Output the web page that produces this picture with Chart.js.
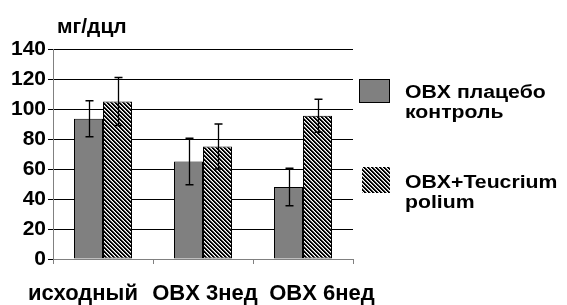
<!DOCTYPE html>
<html>
<head>
<meta charset="utf-8">
<script src="https://cdn.jsdelivr.net/npm/chart.js@4"></script>
<style>
    html, body { margin: 0; padding: 0; background: #fff; }
    #wrap { width: 567px; height: 305px; }
</style>
</head>
<body>
<div id="wrap"><canvas id="grafica" width="567" height="305"></canvas></div>
<script>
"use strict";
/* Datos */
const categorias = ["исходный", "OBX 3нед", "OBX 6нед"];
const nombresSeries = [["OBX плацебо", "контроль"], ["OBX+Teucrium", "polium"]];
const placebo = [93.5, 65, 48];
const placeboErr = [12, 15.5, 12.5];
const teucrium = [105, 75, 95.5];
const teucriumErr = [16, 15, 11];
const ticksY = [0, 20, 40, 60, 80, 100, 120, 140];
const unidad = "мг/дцл";

const FUENTE = "'Liberation Sans', Arial, sans-serif";

/* Patron rayado */
function crearRayado() {
    const c = document.createElement("canvas");
    c.width = 4;
    c.height = 4;
    const ctx = c.getContext("2d");
    ctx.fillStyle = "#fff";
    ctx.fillRect(0, 0, 4, 4);
    for (let y = 0; y < 4; y++) {
        for (let x = 0; x < 4; x++) {
            const k = ((x - y) % 4 + 4) % 4;
            if (k === 0 || k === 1) { ctx.fillStyle = "#000"; ctx.fillRect(x, y, 1, 1); }
            if (k === 2) { ctx.fillStyle = "#999"; ctx.fillRect(x, y, 1, 1); }
        }
    }
    return ctx.createPattern(c, "repeat");
}
const rayado = crearRayado();

/* Barras de error */
const barrasError = {
    id: "barrasError",
    afterDatasetsDraw(chart) {
        const ctx = chart.ctx;
        const escalaY = chart.scales.y;
        const errores = [placeboErr, teucriumErr];
        ctx.save();
        ctx.strokeStyle = "#000";
        ctx.lineWidth = 1.3;
        chart.data.datasets.forEach((ds, d) => {
            chart.getDatasetMeta(d).data.forEach((barra, i) => {
                const v = ds.data[i];
                const e = errores[d][i];
                const x = Math.round(barra.x) + 0.5;
                const yA = escalaY.getPixelForValue(v + e);
                const yB = escalaY.getPixelForValue(v - e);
                ctx.beginPath();
                ctx.moveTo(x, yA); ctx.lineTo(x, yB);
                ctx.moveTo(x - 4, yA); ctx.lineTo(x + 4, yA);
                ctx.moveTo(x - 4, yB); ctx.lineTo(x + 4, yB);
                ctx.stroke();
            });
        });
        ctx.restore();
    }
};

/* Textos: unidad, etiquetas del eje X y leyenda */
const textos = {
    id: "textos",
    afterDraw(chart) {
        const ctx = chart.ctx;
        const escalaX = chart.scales.x;
        ctx.save();
        ctx.fillStyle = "#000";
        ctx.textBaseline = "alphabetic";

        ctx.font = "bold 21px " + FUENTE;
        ctx.textAlign = "left";
        ctx.fillText(unidad, 57, 33);

        ctx.font = "bold 22px " + FUENTE;
        ctx.textAlign = "center";
        const desplaz = [-20, 2, 19];
        categorias.forEach((cat, i) => {
            ctx.fillText(cat, escalaX.getPixelForValue(i) + desplaz[i], 300);
        });

        // leyenda
        const cajas = [[359, 79, 31, 24], [362, 167, 28, 26]];
        const baseY = [97.5, 187.5];
        chart.data.datasets.forEach((ds, d) => {
            const [bx, by, bw, bh] = cajas[d];
            ctx.fillStyle = ds.backgroundColor;
            ctx.fillRect(bx, by, bw, bh);
            if (d === 0) {
                ctx.strokeStyle = "#000";
                ctx.lineWidth = 1;
                ctx.strokeRect(bx + 0.5, by + 0.5, bw - 1, bh - 1);
            }
            ctx.fillStyle = "#000";
            ctx.font = "bold 18px " + FUENTE;
            ctx.textAlign = "left";
            nombresSeries[d].forEach((linea, j) => {
                ctx.save();
                ctx.translate(405, baseY[d] + j * 20);
                ctx.scale(1.18, 1);
                ctx.fillText(linea, 0, 0);
                ctx.restore();
            });
        });
        ctx.restore();
    }
};

new Chart(document.getElementById("grafica"), {
    type: "bar",
    data: {
        labels: categorias,
        datasets: [{
            label: nombresSeries[0].join(" "),
            data: placebo,
            backgroundColor: "#808080",
            borderColor: "#000",
            borderWidth: 1,
            borderSkipped: false
        }, {
            label: nombresSeries[1].join(" "),
            data: teucrium,
            backgroundColor: rayado,
            borderColor: "#000",
            borderWidth: 1,
            borderSkipped: false
        }]
    },
    options: {
        responsive: false,
        animation: false,
        devicePixelRatio: 1,
        layout: { padding: { top: 49, right: 214, bottom: 0, left: 0 } },
        categoryPercentage: 0.58,
        barPercentage: 1,
        plugins: {
            legend: { display: false },
            tooltip: { enabled: false }
        },
        scales: {
            x: {
                grid: {
                    offset: true,
                    drawOnChartArea: false,
                    drawTicks: true,
                    tickLength: 5,
                    color: "#808080"
                },
                border: { color: "#808080", width: 1 },
                ticks: { display: false },
                afterFit: s => { s.height = 46; }
            },
            y: {
                min: 0,
                max: 140,
                afterBuildTicks: s => { s.ticks = ticksY.map(v => ({ value: v })); },
                grid: { color: "#000", lineWidth: 1, tickLength: 5, drawTicks: true },
                border: { color: "#808080", width: 1 },
                ticks: {
                    color: "#000",
                    padding: 2,
                    font: { family: FUENTE, size: 21, weight: "bold" }
                },
                afterFit: s => { s.width = 53; }
            }
        }
    },
    plugins: [barrasError, textos]
});
</script>
</body>
</html>
